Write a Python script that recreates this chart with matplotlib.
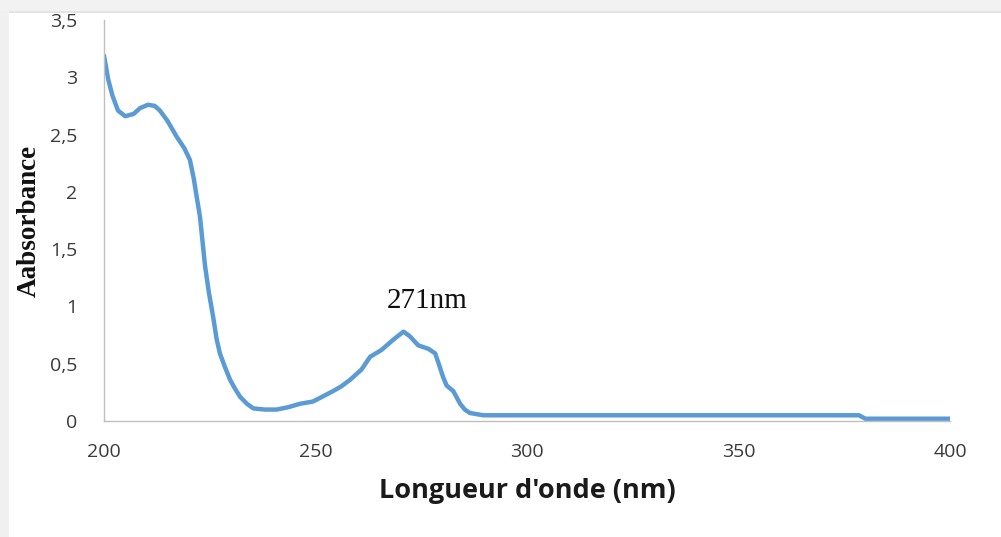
import matplotlib.pyplot as plt
from matplotlib.patches import Rectangle
from matplotlib.ticker import FuncFormatter

# UV spectrum: wavelength (nm) vs absorbance
wavelength = [200, 201, 202, 203.3, 205, 207, 208.5, 210.4, 212, 213.2,
              215, 217.2, 219, 220.3, 221.2, 221.9, 222.7, 223.9, 224.8, 225.8,
              226.6, 227.4, 228.5, 229.8, 231, 232.2, 233.8, 235.3, 238, 240.8,
              243.5, 246.3, 249.4, 251.5, 254.1, 256, 258.2, 260.9, 262.9, 265.6,
              268.4, 270.8, 272.3, 274.3, 276.7, 278.3, 279.4, 280.2, 281.0, 282.6,
              284.2, 285.3, 286.5, 289.7, 292.8, 300, 320, 340, 360, 378.5,
              380, 390, 400]
absorbance = [3.19, 2.98, 2.84, 2.71, 2.66, 2.68, 2.73, 2.76, 2.75, 2.71,
              2.62, 2.48, 2.38, 2.28, 2.12, 1.96, 1.78, 1.35, 1.12, 0.91,
              0.72, 0.59, 0.48, 0.36, 0.28, 0.21, 0.15, 0.11, 0.10, 0.10,
              0.12, 0.15, 0.17, 0.21, 0.26, 0.30, 0.36, 0.45, 0.56, 0.62,
              0.71, 0.78, 0.74, 0.66, 0.63, 0.59, 0.47, 0.38, 0.31, 0.26,
              0.15, 0.10, 0.07, 0.05, 0.05, 0.05, 0.05, 0.05, 0.05, 0.05,
              0.02, 0.02, 0.02]
peak_label = '271nm'
x_ticks = [200, 250, 300, 350, 400]
y_ticks = [0, 0.5, 1, 1.5, 2, 2.5, 3, 3.5]

fig = plt.figure(figsize=(10.01, 5.37), dpi=100, facecolor='white')

# grey frame along the top and left edges
fig.patches.append(Rectangle((0, 0.978), 1, 0.022, transform=fig.transFigure,
                             facecolor='#f2f2f2', edgecolor='none', zorder=0))
fig.patches.append(Rectangle((0, 0.976), 1, 0.004, transform=fig.transFigure,
                             facecolor='#e4e4e4', edgecolor='none', zorder=0))
fig.patches.append(Rectangle((0, 0), 0.009, 0.98, transform=fig.transFigure,
                             facecolor='#f0f0f0', edgecolor='none', zorder=0))

ax = fig.add_axes([0.1039, 0.216, 0.8451, 0.7468])
ax.plot(wavelength, absorbance, color='#5b9bd5', linewidth=3.2,
        solid_joinstyle='round', solid_capstyle='round')

ax.set_xlim(200, 400)
ax.set_ylim(0, 3.5)
ax.set_xticks(x_ticks)
ax.set_yticks(y_ticks)

comma = FuncFormatter(lambda v, p: ('%g' % v).replace('.', ','))
ax.yaxis.set_major_formatter(comma)
ax.tick_params(length=0, labelsize=14, labelcolor='#3a3a3a')
ax.tick_params(axis='y', pad=19)
ax.tick_params(axis='x', pad=16)
for lbl in ax.get_xticklabels() + ax.get_yticklabels():
    lbl.set_fontfamily('Open Sans')

for side in ['top', 'right']:
    ax.spines[side].set_visible(False)
for side in ['left', 'bottom']:
    ax.spines[side].set_color('#bfbfbf')
    ax.spines[side].set_linewidth(1.0)

ax.set_xlabel("Longueur d'onde (nm)", fontsize=19.5, fontweight='bold',
              family='Open Sans', color='#1a1a1a', labelpad=12)
ax.set_ylabel('Aabsorbance', fontsize=19.5, fontweight='bold',
              family='Liberation Serif', color='#111111', labelpad=6)

# peak annotation above the 271 nm band
ax.text(276.5, 0.99, peak_label, ha='center', va='baseline',
        fontsize=21, family='Liberation Serif', color='#111111')

fig.savefig('out.png', dpi=100)
